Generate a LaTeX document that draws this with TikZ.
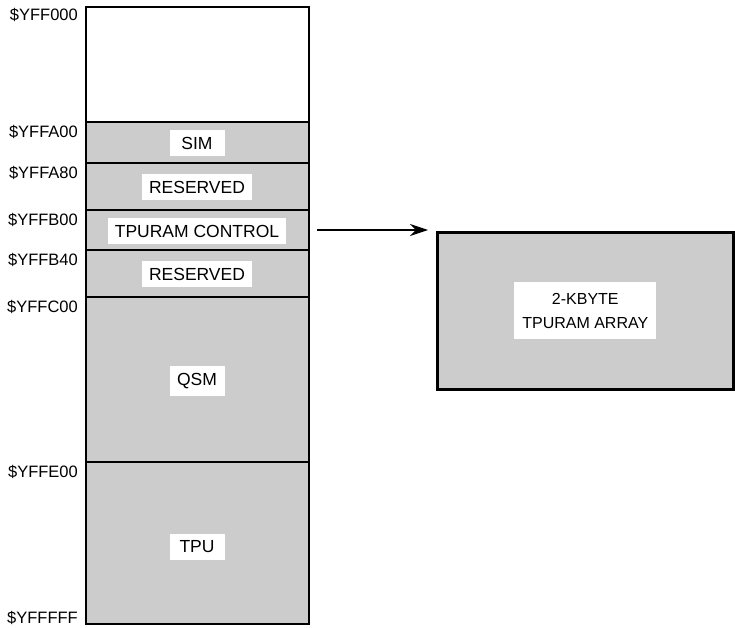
\documentclass[tikz,border=0pt]{standalone}
\usepackage{fontspec}
\setmainfont{Liberation Sans}
\usetikzlibrary{arrows.meta}
\definecolor{memgray}{gray}{0.8}

\begin{document}
\begin{tikzpicture}[x=1pt, y=-1pt,
    every node/.style={font=\fontsize{16.5}{21}\selectfont},
    addr/.style={anchor=north east, inner sep=0pt},
    tag/.style={fill=white, inner xsep=7pt, inner ysep=7pt, minimum width=55pt,
                font=\fontsize{17.5}{21}\selectfont},
    bigtag/.style={fill=white, inner xsep=8pt, inner ysep=11pt, align=center,
                font=\fontsize{16}{24}\selectfont},
    divider/.style={line width=1.6pt},
    border/.style={line width=2.6pt}]
                \useasboundingbox (0,0) rectangle (735,628);
                % memory column
                \fill [memgray] (86,122) rectangle (309,624);
                \foreach \y/\a in {122/A00, 163/A80, 210/B00, 250/B40, 297/C00, 462/E00} {
                    \draw [divider] (86,\y) -- (309,\y);
                    \node [addr] at (78,\y+3) {\$YFF\a};
                }
                \draw [border] (86,7) rectangle (309,624);
                \node [addr] at (78,8) {\$YFF000};
                \node [anchor=base east, inner sep=0pt] at (78,623) {\$YFFFFF};
                \node [tag] (sim) at (197,143) {SIM};
                \node [tag] (res1) at (197,187) {RESERVED};
                \node [tag] (ctrl) at (197,231) {TPURAM CONTROL};
                \node [tag] (res2) at (197,274) {RESERVED};
                \node [tag] (qsm) at (197,381) {QSM};
                \node [tag] (tpu) at (197,547) {TPU};
                \coordinate (ctrlout) at (317,230);
                % TPURAM array
                \node [draw, border, fill=memgray, anchor=north west,
                       minimum width=296, minimum height=157] (arr) at (436,231) {};
                \node [bigtag] (arrtag) at (arr.center) {2-KBYTE\\TPURAM ARRAY};
                \coordinate (arrin) at (428,230);
                \draw [line width=1.4pt, -{Stealth[length=18pt, width=12pt, inset=6pt]}] (ctrlout) -- (arrin);
            \end{tikzpicture}
\end{document}
